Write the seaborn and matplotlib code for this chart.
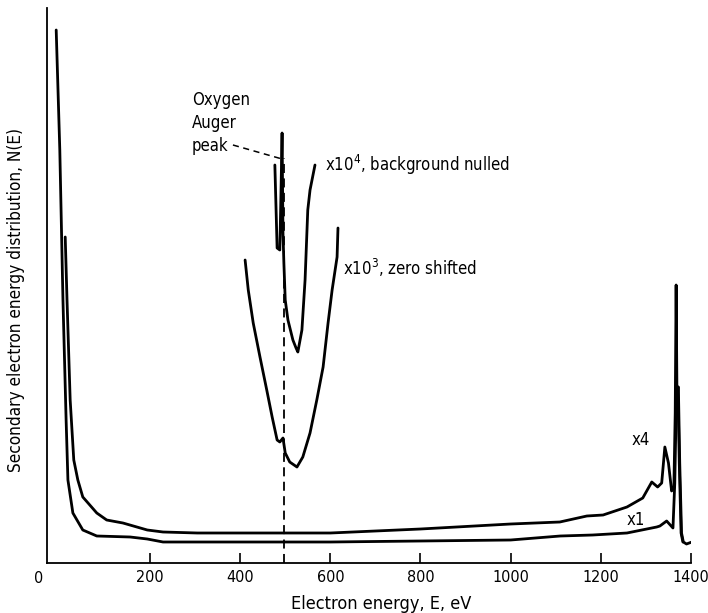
import matplotlib
matplotlib.use("Agg")
import matplotlib.pyplot as plt
from matplotlib import font_manager as fm
import seaborn as sns
import pandas as pd

# ---- data (E in eV, N(E) in arbitrary units) ----
x1_E = [-8, -6, 0, 7, 14, 18, 29, 51, 82, 156, 194, 229, 305, 482, 600, 800, 1000,
        1110, 1182, 1258, 1324, 1331, 1346, 1360, 1364, 1368, 1372, 1375, 1379, 1383, 1390, 1396, 1402]
x1_N = [533, 503, 413, 263, 143, 83, 50, 33, 27, 26, 24, 21, 21, 21, 21, 22, 23,
        27, 28, 30, 36, 37, 42, 35, 80, 176, 176, 100, 30, 21, 19, 20, 21]

x4_E = [12, 16, 23, 31, 40, 51, 82, 104, 140, 194, 229, 305, 496, 600, 800, 1000,
        1109, 1169, 1205, 1258, 1293, 1313, 1326, 1335, 1342, 1350, 1357, 1362, 1365, 1367, 1369, 1371, 1374, 1378, 1382]
x4_N = [326, 263, 163, 103, 83, 66, 50, 43, 40, 33, 31, 30, 30, 30, 34, 39,
        41, 47, 48, 56, 65, 81, 76, 80, 116, 100, 72, 75, 150, 278, 160, 176, 100, 30, 21]

x1e4_E = [477, 482, 488, 491, 493, 495, 497, 500, 506, 517, 524, 528, 537, 544, 550, 555, 566]
x1e4_N = [398, 315, 313, 380, 430, 330, 300, 263, 243, 223, 215, 211, 233, 283, 353, 373, 398]

x1e3_E = [411, 418, 429, 444, 459, 471, 482, 488, 495, 500, 510, 526, 539, 555, 570, 584, 595, 604, 615, 617]
x1e3_N = [303, 273, 240, 206, 173, 146, 123, 121, 125, 110, 101, 96, 106, 130, 163, 196, 240, 273, 306, 335]

oxygen_E = 497
xticks = [200, 400, 600, 800, 1000, 1200, 1400]

frames = []
for name, E, N in [("x1", x1_E, x1_N), ("x4", x4_E, x4_N),
                   ("x1e4", x1e4_E, x1e4_N), ("x1e3", x1e3_E, x1e3_N)]:
    frames.append(pd.DataFrame({"E": E, "N": N, "curve": name}))
df = pd.concat(frames, ignore_index=True)

sns.set_theme(style="ticks")

# pick a condensed font if one is installed
cond = None
for f in fm.fontManager.ttflist:
    nm = f.name.lower()
    st = str(f.stretch).lower()
    if ("narrow" in nm or "condensed" in nm or "condensed" in st) and "bold" not in str(f.weight).lower() \
            and f.style == "normal":
        cond = f
        if "liberation" in nm or "dejavu sans" == nm or "dejavu sans condensed" in nm:
            break
if cond is not None:
    prop = fm.FontProperties(fname=cond.fname)
    fam = prop.get_name()
    plt.rcParams["font.family"] = [fam, "DejaVu Sans"]
    stretch = cond.stretch
else:
    plt.rcParams["font.family"] = ["DejaVu Sans"]
    stretch = "condensed"
plt.rcParams["font.stretch"] = stretch
for k in ["text.color", "axes.labelcolor", "xtick.color", "ytick.color"]:
    plt.rcParams[k] = "black"

fig = plt.figure(figsize=(7.08, 6.13), dpi=100)
ax = fig.add_axes([47/708, 1-563/613, 644/708, 555/613])

sns.lineplot(data=df, x="E", y="N", units="curve", estimator=None, sort=False,
             color="black", linewidth=2.0, ax=ax, legend=False)

ax.axvline(oxygen_E, ymin=0, ymax=405/555, color="black", linewidth=1.3,
           linestyle=(0, (5, 3)))
ax.plot([384, 493], [418, 404], color="black", linewidth=1.1, linestyle=(0, (4, 3)))

ax.set_xlim(-28.4, 1400)
ax.set_ylim(0, 555)
ax.set_xticks(xticks)
ax.set_xticklabels([str(t) for t in xticks], fontsize=11.5)
ax.set_yticks([])
ax.tick_params(axis="x", direction="in", length=7.5, width=1.2, pad=5, colors="black")
sns.despine(ax=ax, top=True, right=True)
for s in ["left", "bottom"]:
    ax.spines[s].set_linewidth(1.3)
    ax.spines[s].set_color("black")

ax.text(-47, -8, "0", ha="center", va="top", fontsize=11.5, clip_on=False)

ax.set_xlabel("Electron energy, E, eV", fontsize=13)
ax.set_ylabel("Secondary electron energy distribution, N(E)", fontsize=12.3)
ax.xaxis.set_label_coords((381 - 47) / 644, -0.058)
ax.yaxis.set_label_coords((25 - 47) / 644, (563 - 300) / 555)

ax.text(293, 440, "Oxygen\nAuger\npeak", ha="left", va="center", fontsize=12,
        linespacing=1.35)
ax.text(588, 398, "x10$^4$, background nulled", ha="left", va="center", fontsize=12)
ax.text(628, 295, "x10$^3$, zero shifted", ha="left", va="center", fontsize=12)
ax.text(1269, 123, "x4", ha="left", va="center", fontsize=12)
ax.text(1257, 43, "x1", ha="left", va="center", fontsize=12)

fig.savefig("out.png", dpi=100)
